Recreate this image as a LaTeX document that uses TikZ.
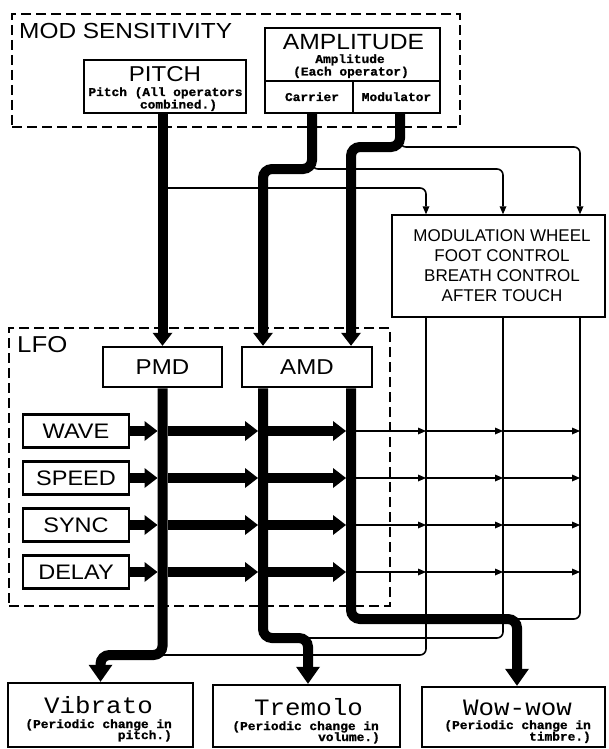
\documentclass[tikz,border=0pt]{standalone}
\usepackage{fontspec}
\setmainfont{Liberation Sans}
\newfontfamily\mylab[FakeStretch=1.12]{Liberation Sans}
\newfontfamily\mymono[FakeStretch=1.07,FakeBold=1.2]{Liberation Mono}
\newfontfamily\mybig[FakeStretch=1.1]{Liberation Mono}
\usetikzlibrary{arrows.meta}
\begin{document}
\begin{tikzpicture}[x=1pt,y=-1pt,
  box/.style={draw, line width=2.5pt, inner sep=0pt, fill=white},
  dbox/.style={draw, line width=1.3pt, dash pattern=on 10pt off 5pt, inner sep=0pt},
  bus/.style={line width=10pt, rounded corners=9pt},
  wire/.style={line width=1.6pt, rounded corners=6pt},
  vtip/.style={-{Triangle[width=20pt,length=13pt,line width=0pt]}},
  otip/.style={-{Triangle[width=24pt,length=17pt,line width=0pt]}},
  htip/.style={-{Triangle[width=20pt,length=13pt,line width=0pt]}},
  ttip/.style={-{Triangle[width=7pt,length=8pt,line width=0pt]}},
  txt/.style={inner sep=0pt, anchor=base},
  small/.style={txt, font=\mymono\bfseries\fontsize{12pt}{12pt}\selectfont},
  lbox/.style={box, font=\mylab\fontsize{21pt}{21pt}\selectfont, minimum width=106pt, minimum height=33pt, text height=15pt, text depth=0pt},
  mbox/.style={box, font=\mylab\fontsize{21.5pt}{21.5pt}\selectfont, minimum height=40pt, text height=15.5pt, text depth=0pt}
]
\useasboundingbox (0,0) rectangle (608,749);

% ---------- MOD SENSITIVITY ----------
\node[dbox, minimum width=448pt, minimum height=113pt] (modsens) at (236,70.5) {};
\node[txt, anchor=base west, font=\mylab\fontsize{21.8pt}{22pt}\selectfont] (modsenst) at (19,39) {MOD SENSITIVITY};

\node[box, minimum width=162pt, minimum height=53pt] (pitch) at (165,86.5) {};
\node[txt, font=\mylab\fontsize{21.5pt}{22pt}\selectfont] (pitcht) at (165,82) {PITCH};
\node[small] (pitchs1) at (165.5,96) {Pitch (All operators};
\node[small] (pitchs2) at (178.5,108.5) {combined.)};

\node[box, minimum width=175pt, minimum height=53pt] (amp) at (352.5,54.5) {};
\node[box, minimum width=88pt, minimum height=32pt] (carrier) at (309,97) {};
\node[box, minimum width=87pt, minimum height=32pt] (modulator) at (396.5,97) {};
\node[txt, font=\mylab\fontsize{22pt}{22pt}\selectfont] (ampt) at (353.5,50) {AMPLITUDE};
\node[small] (amps1) at (350,63) {Amplitude};
\node[small] (amps2) at (351,75.5) {(Each operator)};
\node[small] (carriert) at (312,101) {Carrier};
\node[small] (modulatort) at (396.5,101) {Modulator};

% ---------- controllers ----------
\node[draw, line width=1.5pt, fill=white, minimum width=213pt, minimum height=102pt] (mw) at (498.5,266) {};
\node[align=center, inner sep=0pt, font=\fontsize{17pt}{20.3pt}\selectfont] (mwt) at (502,265.6)
  {MODULATION WHEEL\\FOOT CONTROL\\BREATH CONTROL\\AFTER TOUCH};

% ---------- LFO ----------
\node[dbox, minimum width=381pt, minimum height=278pt] (lfo) at (199.5,467) {};
\node[txt, anchor=base west, font=\mylab\fontsize{23pt}{23pt}\selectfont] (lfot) at (17,352) {LFO};

\node[mbox, minimum width=119pt] (pmd) at (162.5,367) {PMD};
\node[mbox, minimum width=130pt] (amd) at (307,367) {AMD};

\node[lbox] (wave)  at (76,431) {WAVE};
\node[lbox] (speed) at (76,478) {SPEED};
\node[lbox] (sync)  at (76,525) {SYNC};
\node[lbox] (delay) at (76,572) {DELAY};

% ---------- results ----------
\node[box, minimum width=185pt, minimum height=64pt] (vib) at (100.5,715) {};
\node[box, minimum width=187pt, minimum height=62pt] (trem) at (306.5,716) {};
\node[box, minimum width=183pt, minimum height=60pt] (wow) at (513.5,717) {};
\node[txt, font=\mybig\fontsize{23.5pt}{24pt}\selectfont] (vibt) at (98.5,713) {Vibrato};
\node[txt, font=\mybig\fontsize{23.5pt}{24pt}\selectfont] (tremt) at (308.5,715) {Tremolo};
\node[txt, font=\mybig\fontsize{23.5pt}{24pt}\selectfont] (wowt) at (517.5,715) {Wow-wow};
\node[small, anchor=base east] (vibs1) at (172,728) {(Periodic change in};
\node[small, anchor=base east] (vibs2) at (172,739) {pitch.)};
\node[small, anchor=base east] (trems1) at (379,730) {(Periodic change in};
\node[small, anchor=base east] (trems2) at (380,741) {volume.)};
\node[small, anchor=base east] (wows1) at (591,729) {(Periodic change in};
\node[small, anchor=base east] (wows2) at (591,740.5) {timbre.)};

% ---------- routing coordinates ----------
\coordinate (cS) at (312,113);
\coordinate (cJ) at (312,169);
\coordinate (mS) at (400,113);
\coordinate (mJ) at (400,147);
\coordinate (pJ) at (162.5,188);
\coordinate (vJ) at (162.5,655);
\coordinate (tJ) at (263,638);
\coordinate (tK) at (308,638);
\coordinate (wJ) at (351,619);
\coordinate (wK) at (517,619);
\coordinate (xA) at (263,0);
\coordinate (xM) at (351,0);
\coordinate (xPl) at (157.5,0);
\coordinate (xPr) at (167.5,0);
\coordinate (xAl) at (258,0);
\coordinate (xAr) at (268,0);
\coordinate (xMl) at (346,0);
\coordinate (c1) at (426,0);
\coordinate (c2) at (503,0);
\coordinate (c3) at (580,0);

% ---------- thin wires ----------
\draw[wire, ttip] (pmd.north |- pitch.south) -- (pJ) -| (mw.north -| c1);
\draw[wire, ttip] (cS) -- (cJ) -| (mw.north -| c2);
\draw[wire, ttip] (mS) -- (mJ) -| (mw.north -| c3);
\draw[wire] (mw.south -| c1) |- (vJ);
\draw[wire] (mw.south -| c2) |- (tK);
\draw[wire] (mw.south -| c3) |- (wK);

% ---------- thick buses ----------
\draw[bus, vtip] (pmd.north |- pitch.south) -- (pmd.north);
\draw[bus, vtip] (cS) -- (cJ) -| (xA |- amd.north);
\draw[bus, vtip] (mS) -- (mJ) -| (xM |- amd.north);
\draw[bus, otip] (pmd.south) -- (vJ) -| (vib.north);
\draw[bus, otip] (xA |- amd.south) -- (tJ) -- (tK) -- (tK |- trem.north);
\draw[bus, otip] (xM |- amd.south) -- (wJ) -- (wK) -- (wK |- wow.north);

% ---------- LFO parameter arrows ----------
\foreach \n in {wave,speed,sync,delay}{
  \draw[line width=10pt, htip] (\n.east) -- (\n.east -| xPl);
  \draw[line width=10pt, htip] (\n.east -| xPr) -- (\n.east -| xAl);
  \draw[line width=10pt, htip] (\n.east -| xAr) -- (\n.east -| xMl);
  \draw[wire, ttip] (\n.east -| xM) -- (\n.east -| c1);
  \draw[wire, ttip] (\n.east -| c1) -- (\n.east -| c2);
  \draw[wire, ttip] (\n.east -| c2) -- (\n.east -| c3);
}
\end{tikzpicture}
\end{document}
